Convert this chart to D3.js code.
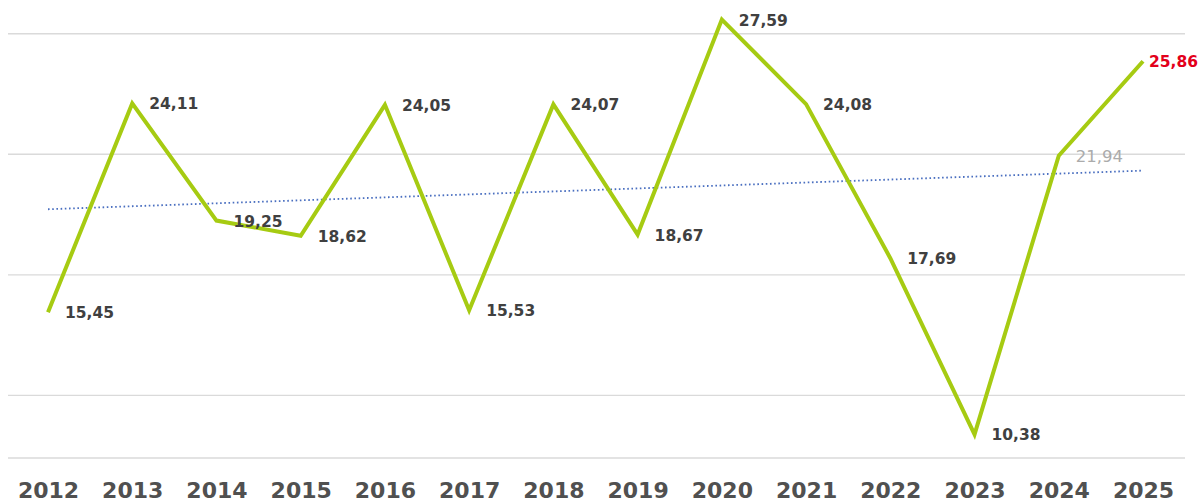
<!DOCTYPE html>
<html>
<head>
<meta charset="utf-8">
<script src="https://cdn.jsdelivr.net/npm/d3@7"></script>
<style>
  html, body { margin: 0; padding: 0; background: #ffffff; }
  svg { display: block; }
</style>
</head>
<body>
<div id="chart"></div>
<script>
const years = ["2012","2013","2014","2015","2016","2017","2018","2019","2020","2021","2022","2023","2024","2025"];
const values = [15.45, 24.11, 19.25, 18.62, 24.05, 15.53, 24.07, 18.67, 27.59, 24.08, 17.69, 10.38, 21.94, 25.86];
const valueLabels = ["15,45","24,11","19,25","18,62","24,05","15,53","24,07","18,67","27,59","24,08","17,69","10,38","21,94","25,86"];
const gridValues = [12, 17, 22, 27];
const yDomain = [9.4, 28.4];

const W = 1204, H = 502;
const svg = d3.select("#chart").append("svg").attr("width", W).attr("height", H);

const x = d3.scalePoint().domain(years).range([48, 1143]);
const y = d3.scaleLinear().domain(yDomain).range([458, 0]);

// gridlines
svg.append("g").selectAll("line").data(gridValues).join("line")
  .attr("x1", 8).attr("x2", 1185)
  .attr("y1", d => y(d)).attr("y2", d => y(d))
  .attr("stroke", "#dadada").attr("stroke-width", 1.3);

// category axis
const xAxis = svg.append("g").attr("transform", `translate(0,${y(yDomain[0])})`)
  .call(d3.axisBottom(x).tickSize(0).tickPadding(0));
xAxis.select(".domain").attr("d", "M8,0H1185").attr("stroke", "#dadada").attr("stroke-width", 1.3);
xAxis.selectAll("text")
  .attr("font-family", "DejaVu Sans, sans-serif")
  .attr("font-weight", "bold")
  .attr("font-size", "22px")
  .attr("fill", "#505050")
  .attr("y", 40)
  .attr("dy", "0");

// trend line (least squares of the series)
const n = values.length;
const mi = d3.mean(values.map((v, i) => i));
const mv = d3.mean(values);
const slope = d3.sum(values.map((v, i) => (i - mi) * (v - mv))) / d3.sum(values.map((v, i) => (i - mi) * (i - mi)));
const trend = values.map((v, i) => mv + slope * (i - mi));
svg.append("path")
  .datum(trend)
  .attr("fill", "none")
  .attr("stroke", "#4a6fc0")
  .attr("stroke-width", 1.8)
  .attr("stroke-dasharray", "1.6 2.6")
  .attr("d", d3.line().x((d, i) => x(years[i])).y(d => y(d)));

// main line
svg.append("path")
  .datum(values)
  .attr("fill", "none")
  .attr("stroke", "#a6cb12")
  .attr("stroke-width", 4)
  .attr("stroke-linejoin", "miter")
  .attr("d", d3.line().x((d, i) => x(years[i])).y(d => y(d)));

// labels
svg.append("g").selectAll("text").data(values).join("text")
  .attr("x", (d, i) => x(years[i]) + (i === n - 1 ? 6 : 17))
  .attr("y", d => y(d) + 1)
  .attr("dominant-baseline", "central")
  .attr("font-family", "DejaVu Sans, sans-serif")
  .attr("font-weight", (d, i) => i === n - 2 ? "normal" : "bold")
  .attr("font-size", (d, i) => i === n - 2 ? "16.5px" : "15.5px")
  .attr("fill", (d, i) => i === n - 1 ? "#e3001b" : (i === n - 2 ? "#ababab" : "#404040"))
  .text((d, i) => valueLabels[i]);
</script>
</body>
</html>
